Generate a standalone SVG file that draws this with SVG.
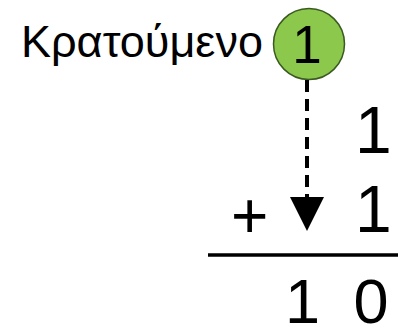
<svg xmlns="http://www.w3.org/2000/svg" width="398" height="328" viewBox="0 0 398 328">
<style>
.t{font-family:"Liberation Sans",Arial,sans-serif;fill:#000}
</style>
<defs>
<marker id="ah" markerUnits="userSpaceOnUse" markerWidth="34" markerHeight="34" refX="17" refY="34" orient="auto-start-reverse" viewBox="0 0 34 34">
</marker>
</defs>
<rect width="398" height="328" fill="#fff"/>
<g id="label">
<text class="t" x="21" y="57" font-size="45">Κρατούμενο</text>
</g>
<g id="carry">
<circle cx="309" cy="44" r="35.5" fill="#8cc84b" stroke="#3a5a20" stroke-width="1.5"/>
<text class="t" x="307" y="63" font-size="53" text-anchor="middle">1</text>
</g>
<g id="connectors">
<line x1="307" y1="80" x2="307" y2="198" stroke="#000" stroke-width="4" stroke-dasharray="12 7"/>
<polygon points="290,197 324,197 307,231" fill="#000"/>
</g>
<g id="sum">
<text class="t" x="355" y="153" font-size="66">1</text>
<text class="t" x="231" y="238" font-size="64">+</text>
<text class="t" x="355" y="232" font-size="66">1</text>
<line x1="208" y1="255" x2="398" y2="255" stroke="#000" stroke-width="3.5"/>
<text class="t" x="285" y="323" font-size="63">1<tspan x="336"> 0</tspan></text>
</g>
</svg>
